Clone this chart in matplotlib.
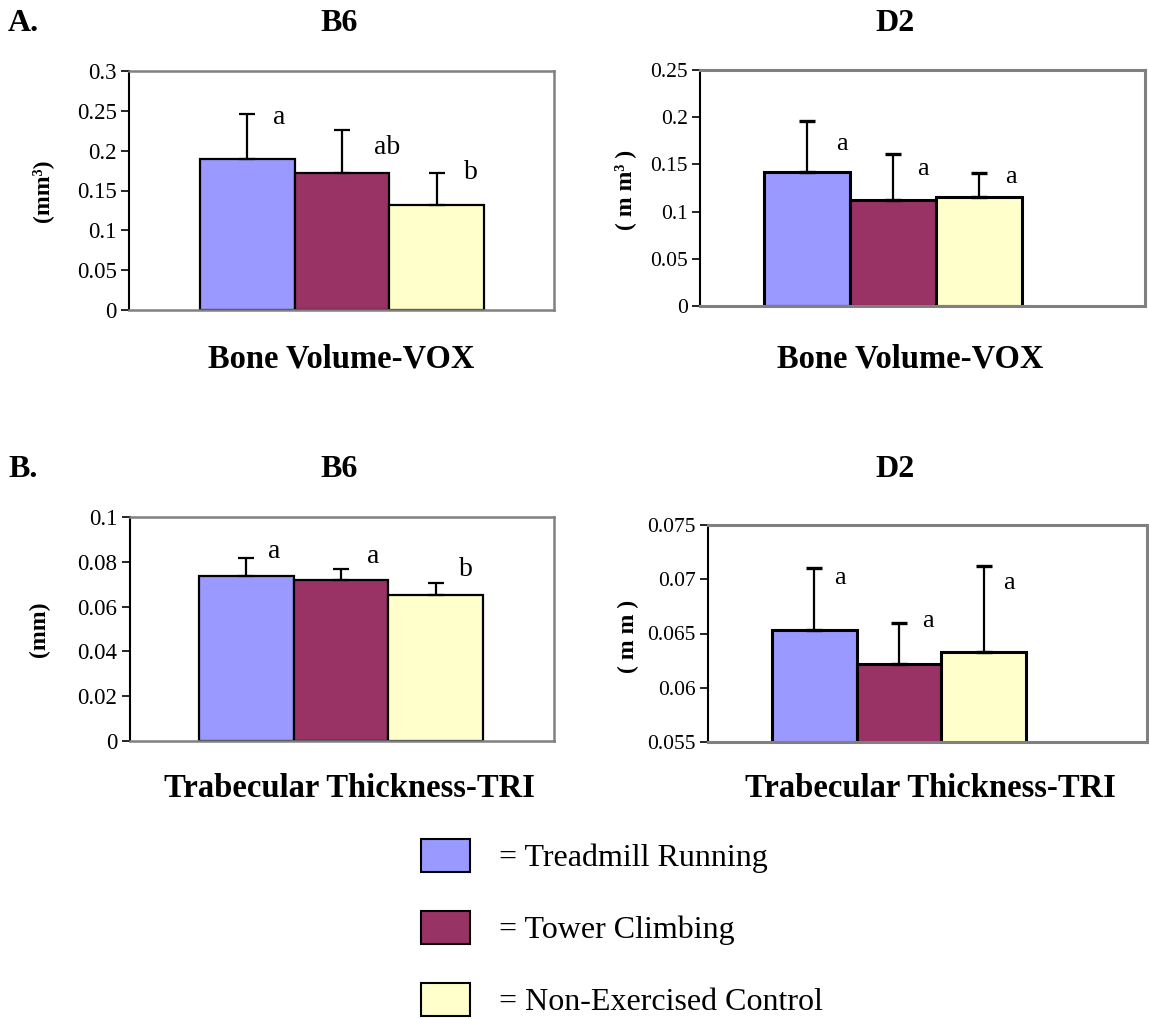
import matplotlib.pyplot as plt
from matplotlib.patches import Patch

plt.rcParams.update({
    'font.family': 'Liberation Serif',
    'axes.linewidth': 1.5,
})

W, H = 1149, 1019

groups = ['Treadmill Running', 'Tower Climbing', 'Non-Exercised Control']
colors = ['#9999FF', '#993366', '#FFFFCC']

# bone volume (mm^3)
bv_b6_mean = [0.189, 0.172, 0.132]
bv_b6_sd = [0.057, 0.054, 0.040]
bv_b6_sig = ['a', 'ab', 'b']
bv_d2_mean = [0.142, 0.112, 0.115]
bv_d2_sd = [0.054, 0.049, 0.026]
bv_d2_sig = ['a', 'a', 'a']

# trabecular thickness (mm)
tt_b6_mean = [0.0738, 0.0719, 0.0653]
tt_b6_sd = [0.0081, 0.0050, 0.0052]
tt_b6_sig = ['a', 'a', 'b']
tt_d2_mean = [0.0653, 0.0622, 0.0633]
tt_d2_sd = [0.0057, 0.0038, 0.0079]
tt_d2_sig = ['a', 'a', 'a']


def px_rect(l, r, t, b):
    return [l / W, 1 - b / H, (r - l) / W, (b - t) / H]


def panel(rect, mean, sd, sig, ylim, step, xlim, sig_off, narrow=False):
    ax = fig.add_axes(rect)
    x = list(range(len(mean)))
    lw = 2.2 if narrow else 1.6
    ax.bar(x, mean, width=1.0, color=colors, edgecolor='black', linewidth=lw, zorder=2)
    ax.errorbar(x, mean, yerr=[[0] * len(sd), sd], fmt='none', ecolor='black',
                elinewidth=1.6, capsize=6, capthick=2.4 if narrow else 1.6, zorder=3)
    for xi, m, s, lab, (dx, dy) in zip(x, mean, sd, sig, sig_off):
        ax.annotate(lab, xy=(xi, m + s), xytext=(dx, -dy), textcoords='offset pixels',
                    ha='center', va='center', fontsize=19 if narrow else 20)
    ax.set_xlim(*xlim)
    ax.set_ylim(*ylim)
    n = int(round((ylim[1] - ylim[0]) / step))
    ticks = [ylim[0] + i * step for i in range(n + 1)]
    ax.set_yticks(ticks)
    ax.set_yticklabels([f'{t:g}' for t in ticks])
    ax.set_xticks([])
    ax.tick_params(axis='y', length=6, width=1.2, labelsize=15.5 if narrow else 16.5,
                   pad=3, colors='black')
    for side in ['top', 'right', 'bottom']:
        ax.spines[side].set_color('#808080')
        ax.spines[side].set_linewidth(2.2 if narrow else 1.8)
    ax.spines['bottom'].set_zorder(4)
    ax.spines['left'].set_color('black')
    return ax


fig = plt.figure(figsize=(W / 100, H / 100), dpi=100)

panel(px_rect(129, 554, 71, 310), bv_b6_mean, bv_b6_sd, bv_b6_sig, (0, 0.3), 0.05,
      (-1.25, 3.24), [(32, 3), (45, 18), (34, 0)])
panel(px_rect(700, 1145, 70, 306), bv_d2_mean, bv_d2_sd, bv_d2_sig, (0, 0.25), 0.05,
      (-1.24, 3.93), [(35, 23), (30, 15), (32, 4)], narrow=True)
panel(px_rect(130, 554, 517, 741), tt_b6_mean, tt_b6_sd, tt_b6_sig, (0, 0.1), 0.02,
      (-1.23, 3.25), [(28, -6), (32, -12), (30, -14)])
panel(px_rect(708, 1147, 525, 742), tt_d2_mean, tt_d2_sd, tt_d2_sig, (0.055, 0.075), 0.005,
      (-1.255, 3.93), [(26, 10), (29, -2), (25, 17)], narrow=True)


def ftext(x, y, s, **kw):
    fig.text(x / W, 1 - y / H, s, **kw)


bold = dict(fontweight='bold', va='baseline')
ftext(8, 31, 'A.', ha='left', fontsize=23, **bold)
ftext(8, 477, 'B.', ha='left', fontsize=23, **bold)
ftext(339, 31, 'B6', ha='center', fontsize=23, **bold)
ftext(895, 31, 'D2', ha='center', fontsize=23, **bold)
ftext(339, 477, 'B6', ha='center', fontsize=23, **bold)
ftext(895, 477, 'D2', ha='center', fontsize=23, **bold)

ftext(341, 367, 'Bone Volume-VOX', ha='center', fontsize=23.5, **bold)
ftext(910, 367, 'Bone Volume-VOX', ha='center', fontsize=23.5, **bold)
ftext(349, 797, 'Trabecular Thickness-TRI', ha='center', fontsize=23.5, **bold)
ftext(930, 797, 'Trabecular Thickness-TRI', ha='center', fontsize=23.5, **bold)

ylab = dict(fontweight='bold', rotation=90, ha='center', va='center', fontsize=17)
ftext(42, 191, '(mm³)', **ylab)
ftext(625, 190, '( m m³ )', **ylab)
ftext(39, 629, '(mm)', **ylab)
ftext(628, 636, '( m m )', **ylab)

handles = [Patch(facecolor=c, edgecolor='black', linewidth=1.5) for c in colors]
fig.legend(handles, ['= ' + g for g in groups], loc='upper left',
           bbox_to_anchor=(421 / W, 1 - 839 / H), frameon=False, fontsize=23,
           handlelength=1.53, handleheight=1.19, handletextpad=0.9,
           labelspacing=1.19, borderpad=0, borderaxespad=0)

fig.savefig('out.png', dpi=100)
